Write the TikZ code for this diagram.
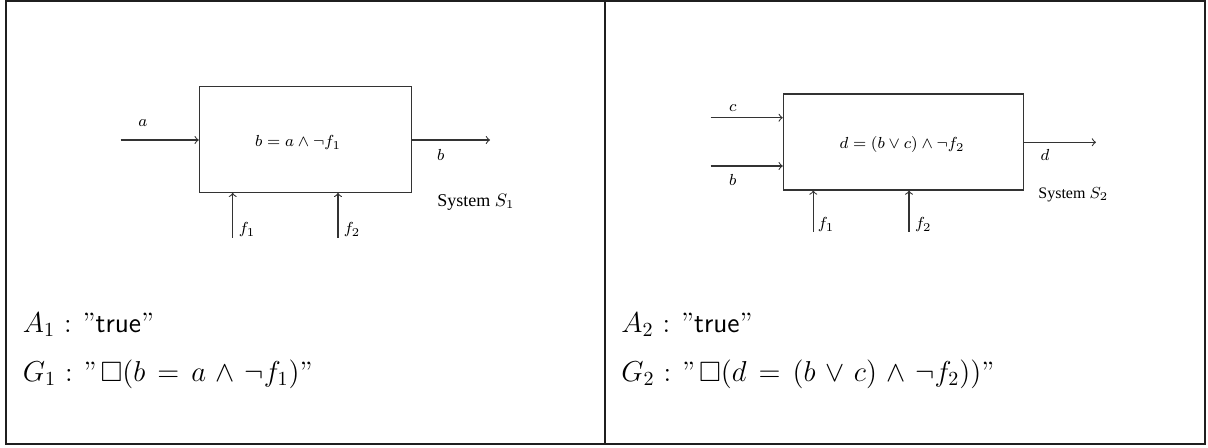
\documentclass[tikz,border=0pt]{standalone}
\usepackage{amssymb}
\usepackage{fontspec}
\newfontfamily\timesfont{Liberation Serif}
\newcommand{\dqr}{\textquotedblright}
\newcommand{\colsep}{\hspace{4.5pt}:\hspace{5.5pt}}
\newcommand{\loosemath}{\thickmuskip=7.5mu\relax\medmuskip=6mu\relax}
\begin{document}
\begin{tikzpicture}[x=0.5pt,y=-0.5pt,
  frameline/.style={line width=1pt,draw=black!88},
  sysbox/.style={draw=black!80,line width=0.55pt,rectangle,inner sep=0pt},
  sig/.style={draw=black!80,line width=0.55pt,->,>=to},
  lbl/.style={inner sep=0pt,font=\fontsize{8}{9.6}\selectfont},
  syslbl/.style={inner sep=0pt,font=\fontsize{9}{10.8}\timesfont},
  big/.style={inner sep=0pt,anchor=base west,
    font=\fontsize{14}{17}\selectfont\loosemath}]
\useasboundingbox (0,0) rectangle (1208,448);
% frame
\node[frameline,draw,rectangle,inner sep=0pt,minimum width=599.5pt,minimum height=221pt] (frame) at (605.5,222.5) {};
\coordinate (divtop) at (605,1.5);
\draw[frameline] (divtop) -- (divtop |- frame.south);
% ---------- left system ----------
\node[sysbox,minimum width=106.2pt,minimum height=52.8pt] (box1) at (305.5,139.5) {};
\node[lbl] (eq1) at (298,143) {$b = a \wedge \neg f_1$};
\coordinate (ain) at (120.7,140);
\draw[sig] (ain) -- (ain -| box1.west);
\node[lbl] (la) at (143,123) {$a$};
\coordinate (bout) at (490,140);
\draw[sig] (bout -| box1.east) -- (bout);
\node[lbl] (lb) at (440.7,155) {$b$};
\coordinate (f1in) at (232.7,238);
\draw[sig] (f1in) -- (f1in |- box1.south);
\node[lbl] (lf1) at (247,230) {$f_1$};
\coordinate (f2in) at (338,238);
\draw[sig] (f2in) -- (f2in |- box1.south);
\node[lbl] (lf2) at (352,230) {$f_2$};
\node[syslbl] (sys1) at (476,202) {System $S_1$};
% ---------- right system ----------
\node[sysbox,minimum width=120pt,minimum height=48pt] (box2) at (903.3,142) {};
\node[lbl] (eq2) at (902,145) {$d = (b \vee c) \wedge \neg f_2$};
\coordinate (cin) at (710.7,117.7);
\draw[sig] (cin) -- (cin -| box2.west);
\node[lbl] (lc) at (732.7,108.3) {$c$};
\coordinate (bin) at (710.7,166);
\draw[sig] (bin) -- (bin -| box2.west);
\node[lbl] (lb2) at (732.7,180) {$b$};
\coordinate (dout) at (1096,142.3);
\draw[sig] (dout -| box2.east) -- (dout);
\node[lbl] (ld) at (1045,155) {$d$};
\coordinate (g1in) at (813.3,231.7);
\draw[sig] (g1in) -- (g1in |- box2.south);
\node[lbl] (lg1) at (826,225) {$f_1$};
\coordinate (g2in) at (909,231.7);
\draw[sig] (g2in) -- (g2in |- box2.south);
\node[lbl] (lg2) at (923.3,225) {$f_2$};
\node[syslbl,font=\fontsize{8}{9.6}\timesfont] (sys2) at (1073.3,195) {System $S_2$};
% ---------- contracts ----------
\node[big] (A1) at (22.5,332) {$A_1$\colsep\dqr\textsf{true}\dqr};
\node[big] (G1) at (22.5,381) {$G_1$\colsep\dqr\hspace{2pt}$\square(b = a \wedge \neg f_1)$\dqr};
\node[big] (A2) at (621,332) {$A_2$\colsep\dqr\textsf{true}\dqr};
\node[big] (G2) at (621,381) {$G_2$\colsep\dqr\hspace{2pt}$\square(d = (b \vee c) \wedge \neg f_2))$\dqr};
\end{tikzpicture}
\end{document}
